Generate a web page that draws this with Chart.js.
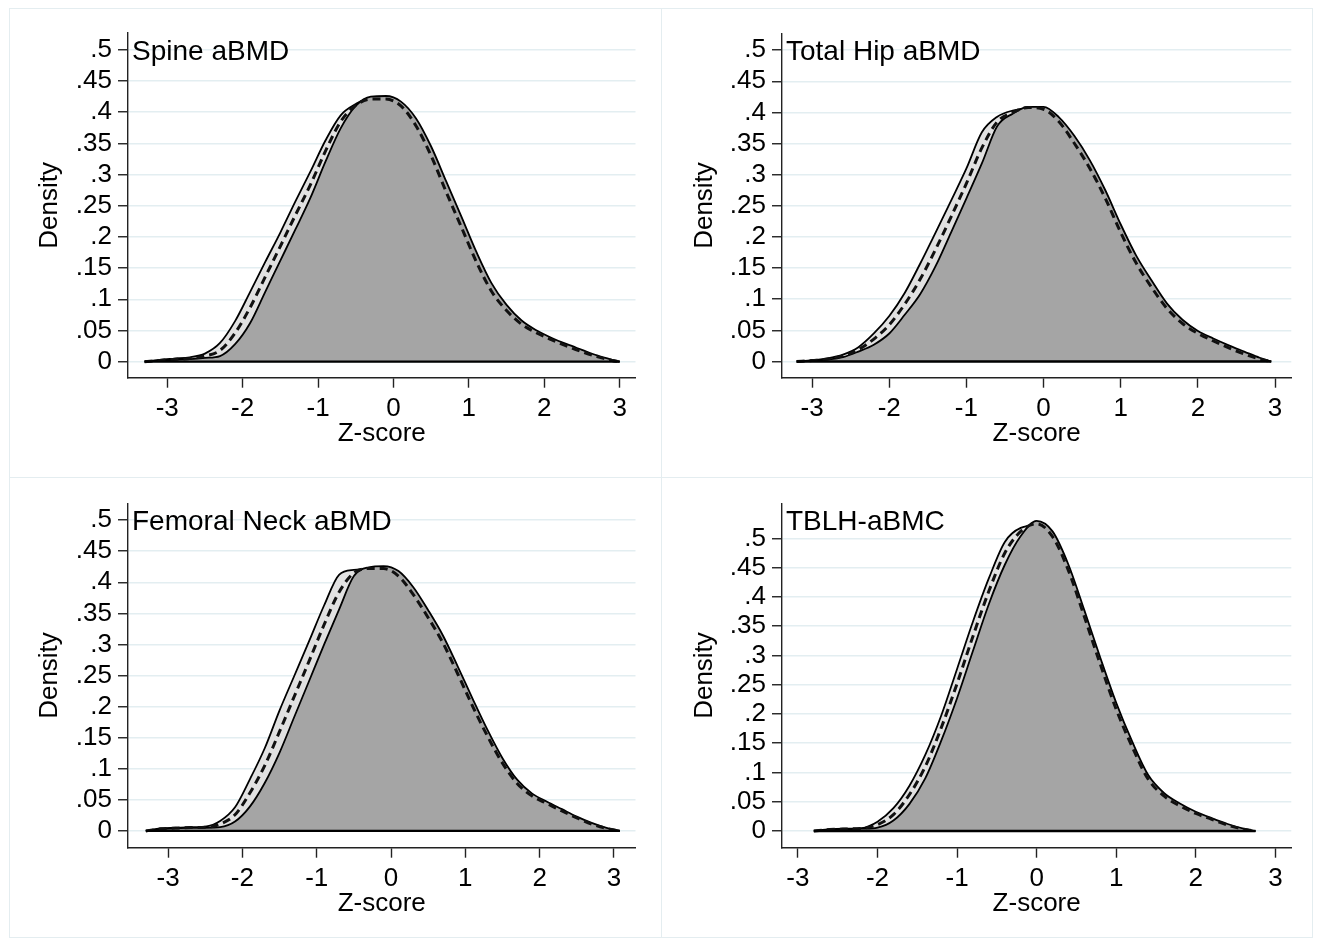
<!DOCTYPE html>
<html>
<head>
<meta charset="utf-8">
<script src="https://cdn.jsdelivr.net/npm/chart.js@4.4.1/dist/chart.umd.min.js"></script>
<style>
  html, body { margin: 0; padding: 0; background: #ffffff; }
  #wrap { position: relative; width: 1318px; height: 942px; overflow: hidden; background: #ffffff; }
  canvas { position: absolute; }
  .ln { position: absolute; background: #e4edf0; }
</style>
</head>
<body>
<div id="wrap">
  <div class="ln" style="left:9px;top:8px;width:1px;height:930px"></div>
  <div class="ln" style="left:661px;top:8px;width:1px;height:930px"></div>
  <div class="ln" style="left:1312px;top:8px;width:1px;height:930px"></div>
  <div class="ln" style="left:9px;top:8px;width:1304px;height:1px"></div>
  <div class="ln" style="left:9px;top:477px;width:1304px;height:1px"></div>
  <div class="ln" style="left:9px;top:937px;width:1304px;height:1px"></div>
  <canvas id="c1"></canvas>
  <canvas id="c2"></canvas>
  <canvas id="c3"></canvas>
  <canvas id="c4"></canvas>
</div>
<script>
// ---------------- data ----------------
const xTicks = [-3, -2, -1, 0, 1, 2, 3];
const xTickLabels = ['-3', '-2', '-1', '0', '1', '2', '3'];
const yTicks = [0, 0.05, 0.1, 0.15, 0.2, 0.25, 0.3, 0.35, 0.4, 0.45, 0.5];
const yTickLabels = ['0', '.05', '.1', '.15', '.2', '.25', '.3', '.35', '.4', '.45', '.5'];
const xTitle = 'Z-score';
const yTitle = 'Density';

// Spine aBMD
const spineTitle = 'Spine aBMD';
const spineZ = [-3.3,-3.1,-2.9,-2.7,-2.5,-2.3,-2.1,-1.9,-1.7,-1.5,-1.3,-1.1,-0.9,-0.7,-0.5,-0.3,-0.1,0.1,0.3,0.5,0.7,0.9,1.1,1.3,1.5,1.7,1.9,2.1,2.3,2.5,2.7,2.9,3.0];
const spineRight = [0,0.002,0.003,0.004,0.006,0.009,0.028,0.062,0.112,0.162,0.212,0.263,0.321,0.374,0.410,0.425,0.426,0.417,0.390,0.345,0.289,0.233,0.176,0.126,0.091,0.066,0.050,0.038,0.028,0.019,0.010,0.003,0];
const spineLeft = [0,0.003,0.005,0.007,0.013,0.030,0.065,0.112,0.160,0.207,0.257,0.305,0.355,0.395,0.413,0.423,0.420,0.405,0.372,0.322,0.262,0.205,0.150,0.104,0.075,0.055,0.042,0.032,0.023,0.014,0.007,0.001,0];
const spineDashed = [0,0.002,0.004,0.005,0.009,0.018,0.046,0.087,0.136,0.185,0.235,0.284,0.338,0.385,0.411,0.421,0.421,0.410,0.378,0.330,0.272,0.216,0.160,0.113,0.082,0.060,0.046,0.035,0.025,0.016,0.008,0.002,0];

// Total Hip aBMD
const hipTitle = 'Total Hip aBMD';
const hipZ = [-3.2,-3.0,-2.8,-2.6,-2.4,-2.2,-2.0,-1.8,-1.6,-1.4,-1.2,-1.0,-0.8,-0.6,-0.4,-0.2,0.0,0.2,0.4,0.6,0.8,1.0,1.2,1.4,1.6,1.8,2.0,2.2,2.4,2.6,2.8,2.95];
const hipRight = [0,0.001,0.003,0.007,0.016,0.027,0.045,0.075,0.108,0.153,0.207,0.262,0.318,0.378,0.398,0.409,0.409,0.392,0.362,0.323,0.275,0.220,0.170,0.130,0.093,0.067,0.049,0.037,0.026,0.016,0.006,0];
const hipLeft = [0,0.002,0.005,0.011,0.023,0.045,0.073,0.110,0.157,0.207,0.258,0.310,0.368,0.393,0.403,0.407,0.400,0.378,0.340,0.300,0.250,0.195,0.148,0.110,0.078,0.055,0.041,0.029,0.018,0.009,0.002,0];
const hipDashed = [0,0.0015,0.004,0.009,0.019,0.036,0.059,0.092,0.132,0.180,0.232,0.286,0.343,0.385,0.400,0.408,0.405,0.385,0.350,0.310,0.262,0.207,0.158,0.119,0.085,0.061,0.045,0.033,0.022,0.012,0.004,0];

// Femoral Neck aBMD
const neckTitle = 'Femoral Neck aBMD';
const neckZ = [-3.3,-3.1,-2.9,-2.7,-2.5,-2.3,-2.1,-1.9,-1.7,-1.5,-1.3,-1.1,-0.9,-0.7,-0.5,-0.3,-0.1,0.1,0.3,0.5,0.7,0.9,1.1,1.3,1.5,1.7,1.9,2.1,2.3,2.5,2.7,2.9,3.08];
const neckRight = [0,0.003,0.004,0.005,0.005,0.006,0.015,0.039,0.077,0.126,0.184,0.242,0.300,0.356,0.410,0.424,0.426,0.418,0.392,0.355,0.314,0.264,0.212,0.162,0.117,0.082,0.060,0.047,0.035,0.023,0.013,0.005,0];
const neckLeft = [0,0.004,0.005,0.006,0.007,0.016,0.038,0.083,0.133,0.194,0.250,0.306,0.363,0.412,0.420,0.421,0.421,0.405,0.375,0.335,0.293,0.243,0.193,0.145,0.103,0.072,0.053,0.041,0.030,0.019,0.010,0.003,0];
const neckDashed = [0,0.0035,0.0045,0.0055,0.006,0.011,0.026,0.061,0.105,0.160,0.217,0.274,0.332,0.384,0.415,0.422,0.422,0.410,0.380,0.343,0.302,0.252,0.200,0.152,0.109,0.076,0.056,0.044,0.032,0.021,0.011,0.004,0];

// TBLH-aBMC
const tblhTitle = 'TBLH-aBMC';
const tblhZ = [-2.8,-2.6,-2.4,-2.2,-2.0,-1.8,-1.6,-1.4,-1.2,-1.0,-0.8,-0.6,-0.4,-0.2,0.0,0.2,0.4,0.6,0.8,1.0,1.2,1.4,1.6,1.8,2.0,2.2,2.4,2.6,2.75];
const tblhRight = [0,0.002,0.003,0.004,0.006,0.018,0.046,0.090,0.154,0.227,0.308,0.388,0.455,0.504,0.530,0.512,0.455,0.377,0.296,0.219,0.153,0.096,0.065,0.047,0.033,0.022,0.012,0.004,0];
const tblhLeft = [0,0.003,0.004,0.005,0.016,0.039,0.077,0.130,0.197,0.277,0.358,0.432,0.494,0.518,0.522,0.495,0.435,0.355,0.275,0.198,0.136,0.083,0.056,0.040,0.028,0.018,0.009,0.002,0];
const tblhDashed = [0,0.0025,0.0035,0.0045,0.011,0.028,0.062,0.110,0.176,0.252,0.333,0.410,0.475,0.512,0.525,0.503,0.445,0.366,0.285,0.208,0.144,0.089,0.060,0.043,0.030,0.020,0.010,0.003,0];

// ---------------- drawing ----------------
const FONT = '"Liberation Sans", Arial, sans-serif';
const TICK_SIZE = 26;
const TITLE_SIZE = 28;

const panelTitle = {
  id: 'panelTitle',
  afterDatasetsDraw(chart, args, opts) {
    const { ctx, chartArea } = chart;
    ctx.save();
    ctx.font = TITLE_SIZE + 'px ' + FONT;
    ctx.fillStyle = '#000';
    ctx.textAlign = 'left';
    ctx.textBaseline = 'alphabetic';
    ctx.fillText(opts.text, chartArea.left + 4, chartArea.top + 27);
    ctx.restore();
  }
};

function pts(xs, ys) { return xs.map((x, i) => ({ x: x, y: ys[i] })); }

function makePanel(id, p) {
  const el = document.getElementById(id);
  el.width = p.w; el.height = p.h;
  el.style.left = p.x + 'px'; el.style.top = p.y + 'px';
  el.style.width = p.w + 'px'; el.style.height = p.h + 'px';
  const n = p.z.length;
  new Chart(el, {
    type: 'line',
    data: {
      datasets: [
        { label: 'baseline', data: [{ x: p.z[0], y: 0 }, { x: p.z[n - 1], y: 0 }],
          borderColor: '#000', borderWidth: 2.4, pointRadius: 0, fill: false },
        { label: 'dashed', data: pts(p.z, p.dashed), borderColor: '#111', borderWidth: 3,
          borderDash: [8, 5], pointRadius: 0, fill: false, cubicInterpolationMode: 'monotone' },
        { label: 'right', data: pts(p.z, p.right), borderColor: '#000', borderWidth: 1.8,
          backgroundColor: '#a5a5a5', fill: 'origin', pointRadius: 0, cubicInterpolationMode: 'monotone' },
        { label: 'left', data: pts(p.z, p.left), borderColor: '#000', borderWidth: 1.8,
          backgroundColor: '#e1e1e1', fill: 'origin', pointRadius: 0, cubicInterpolationMode: 'monotone' }
      ]
    },
    options: {
      responsive: false, animation: false, devicePixelRatio: 1,
      layout: { padding: { left: 0, top: p.padTop, right: p.padRight, bottom: p.padBottom } },
      plugins: { legend: { display: false }, tooltip: { enabled: false }, panelTitle: { text: p.title } },
      scales: {
        x: {
          type: 'linear', min: p.xMin, max: p.xMax,
          afterBuildTicks: (a) => { a.ticks = xTicks.map(v => ({ value: v })); },
          afterFit: (s) => { s.height = 89; },
          grid: { drawOnChartArea: false, drawTicks: true, tickLength: 10, tickColor: '#222', tickWidth: 1.4 },
          border: { display: true, color: '#222', width: 1.4 },
          ticks: { color: '#000', font: { family: FONT, size: TICK_SIZE }, padding: 6, maxRotation: 0, autoSkip: false,
                   callback: (v, i) => xTickLabels[i] },
          title: { display: true, text: xTitle, color: '#000', font: { family: FONT, size: TICK_SIZE },
                   padding: { top: 0, bottom: 17 } }
        },
        y: {
          type: 'linear', min: p.yMin, max: p.yMax,
          afterBuildTicks: (a) => { a.ticks = yTicks.map(v => ({ value: v })); },
          afterFit: (s) => { s.width = p.yW; },
          grid: { color: '#e3eef1', lineWidth: 1.5, drawTicks: true, tickLength: 10, tickColor: '#222', tickWidth: 1.4 },
          border: { display: true, color: '#222', width: 1.4 },
          ticks: { color: '#000', font: { family: FONT, size: TICK_SIZE }, padding: 6, autoSkip: false,
                   callback: (v, i) => yTickLabels[i] },
          title: { display: true, text: yTitle, color: '#000', font: { family: FONT, size: TICK_SIZE },
                   padding: { top: p.densPad, bottom: 0 } }
        }
      }
    },
    plugins: [panelTitle]
  });
}

makePanel('c1', { x: 0, y: 0, w: 661, h: 477, yW: 128, padTop: 33, padRight: 25.5, padBottom: 10.3,
  xMin: -3.52, xMax: 3.21, yMin: -0.0257, yMax: 0.527, densPad: 34,
  title: spineTitle, z: spineZ, right: spineRight, left: spineLeft, dashed: spineDashed });
makePanel('c2', { x: 661, y: 0, w: 657, h: 477, yW: 121, padTop: 33.3, padRight: 26.7, padBottom: 10.3,
  xMin: -3.39, xMax: 3.21, yMin: -0.026, yMax: 0.527, densPad: 28,
  title: hipTitle, z: hipZ, right: hipRight, left: hipLeft, dashed: hipDashed });
makePanel('c3', { x: 0, y: 477, w: 661, h: 465, yW: 128, padTop: 26.3, padRight: 25.5, padBottom: 5.3,
  xMin: -3.54, xMax: 3.29, yMin: -0.027, yMax: 0.527, densPad: 34,
  title: neckTitle, z: neckZ, right: neckRight, left: neckLeft, dashed: neckDashed });
makePanel('c4', { x: 661, y: 477, w: 657, h: 465, yW: 121, padTop: 26.3, padRight: 26.7, padBottom: 5.3,
  xMin: -3.20, xMax: 3.20, yMin: -0.0285, yMax: 0.56, densPad: 28,
  title: tblhTitle, z: tblhZ, right: tblhRight, left: tblhLeft, dashed: tblhDashed });
</script>
</body>
</html>
